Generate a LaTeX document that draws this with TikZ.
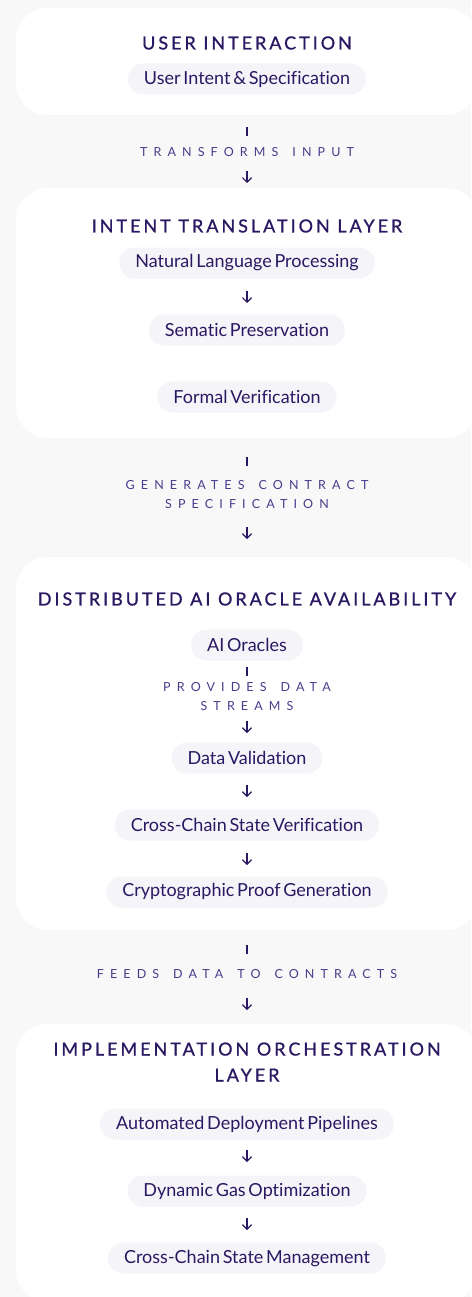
\documentclass[tikz,border=0pt]{standalone}
\usepackage{fontspec}
\setmainfont{Lato}
\newfontfamily\headfont[LetterSpace=16.5,FakeBold=0.9]{Lato}
\newfontfamily\linkfont[LetterSpace=49,WordSpace=1.5]{Lato}
\newfontfamily\pillfont[WordSpace=0.6,Ligatures=NoCommon]{Lato}
\usetikzlibrary{arrows.meta,positioning}
\definecolor{pagebg}{HTML}{F8F8F8}
\definecolor{ink}{HTML}{2A1862}
\definecolor{linkink}{HTML}{4A3B8C}
\definecolor{pillbg}{HTML}{F5F4F8}
\tikzset{
  layer/.style={fill=white,rounded corners=32pt},
  head/.style={text=ink,font=\headfont\fontsize{18}{26}\selectfont,align=center,inner sep=0pt},
  pill/.style={fill=pillbg,text=ink,rounded corners=15.5pt,minimum height=31pt,
    inner xsep=16pt,inner ysep=0pt,font=\pillfont\fontsize{18}{20}\selectfont},
  link/.style={text=linkink,font=\linkfont\fontsize{12.5}{19}\selectfont,align=center,inner sep=0pt},
  tick/.style={draw=ink,line width=1.2pt},
  down/.style={draw=ink,line width=1.2pt,-{Straight Barb[length=4.5pt,width=9pt]}},
}
\begin{document}
\begin{tikzpicture}[x=1pt,y=-1pt]
\useasboundingbox (0,0) rectangle (471,1297);
\fill[pagebg] (0,0) rectangle (471,1297);
% layers
\fill[layer] (16,8) rectangle (478,115);
\fill[layer] (16,188) rectangle (478,438);
\fill[layer] (16,557) rectangle (478,930);
\fill[layer] (16,1024) rectangle (478,1302);

% user interaction
\node[head] (user) at (247,43) {USER INTERACTION};
\node[pill] (intent) at (247,79) {User Intent \& Specification};
\node[link] (transforms) at (247,152) {TRANSFORMS INPUT};

% intent translation
\node[head] (translation) at (247,226) {INTENT TRANSLATION LAYER};
\node[pill] (nlp) at (247,263) {Natural Language Processing};
\node[pill] (semantic) at (247,330) {Sematic Preservation};
\node[pill] (formal) at (247,397) {Formal Verification};
\node[link] (generates) at (247,494.5) {GENERATES CONTRACT\\SPECIFICATION};

% oracles
\node[head] (oracle) at (247,599) {DISTRIBUTED AI ORACLE AVAILABILITY};
\node[pill] (aioracles) at (247,645) {AI Oracles};
\node[link] (streams) at (247,697) {PROVIDES DATA\\STREAMS};
\node[pill] (validation) at (247,758) {Data Validation};
\node[pill] (crossverif) at (247,825) {Cross-Chain State Verification};
\node[pill] (proof) at (247,892) {Cryptographic Proof Generation};
\node[link] (feeds) at (247,974) {FEEDS DATA TO CONTRACTS};

% orchestration
\node[head] (orchestration) at (247,1062) {IMPLEMENTATION ORCHESTRATION\\LAYER};
\node[pill] (pipelines) at (247,1124) {Automated Deployment Pipelines};
\node[pill] (gas) at (247,1191) {Dynamic Gas Optimization};
\node[pill] (crossmgmt) at (247,1258) {Cross-Chain State Management};

% bars above the link labels
\foreach \y [count=\i] in {132,461,671,949}{
  \coordinate (tk\i a) at (247,\y-4.5);
  \coordinate (tk\i b) at (247,\y+4.5);
  \draw[tick] (tk\i a) -- (tk\i b);
}
% down arrows
\foreach \y [count=\i] in {177,297,533,727,791,859,1004,1156,1224}{
  \coordinate (dn\i a) at (247,\y-6);
  \coordinate (dn\i b) at (247,\y+6);
  \draw[down] (dn\i a) -- (dn\i b);
}
\end{tikzpicture}
\end{document}
